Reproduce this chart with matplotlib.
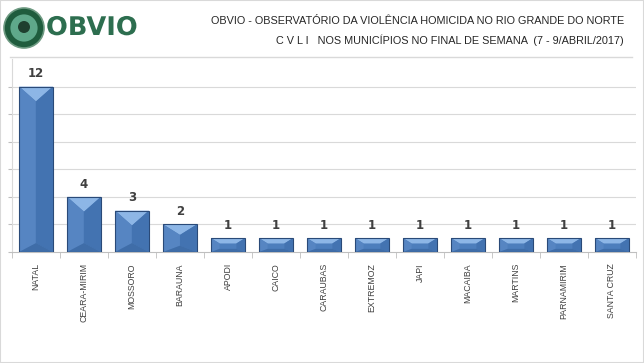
import matplotlib
matplotlib.use("Agg")
import matplotlib.pyplot as plt
import matplotlib.patheffects as pe
from matplotlib.patches import Polygon, Circle, Rectangle
from matplotlib.lines import Line2D

# data
municipios = ['NATAL', 'CEARA-MIRIM', 'MOSSORO', 'BARAUNA', 'APODI', 'CAICO',
              'CARAUBAS', 'EXTREMOZ', 'JAPI', 'MACAIBA', 'MARTINS',
              'PARNAMIRIM', 'SANTA CRUZ']
cvli = [12, 4, 3, 2, 1, 1, 1, 1, 1, 1, 1, 1, 1]

titulo1 = 'OBVIO - OBSERVATÓRIO DA VIOLÊNCIA HOMICIDA NO RIO GRANDE DO NORTE'
titulo2 = 'C V L I   NOS MUNICÍPIOS NO FINAL DE SEMANA  (7 - 9/ABRIL/2017)'

NARROW = ['Liberation Sans', 'DejaVu Sans']

fig = plt.figure(figsize=(6.44, 3.63), dpi=100)
W, H = 644, 363
ax = fig.add_axes([12 / W, 1 - 252 / H, 624 / W, 193 / H])

n = len(cvli)
ax.set_xlim(-0.5, n - 0.5)
ax.set_ylim(0, 14)

# pixel -> data scales
px_x = n / 624.0
px_y = 14 / 193.0

bw = 0.7
for i, v in enumerate(cvli):
    x0, x1 = i - bw / 2, i + bw / 2
    hpx = v / px_y
    dv = min(15, 0.38 * hpx)
    dh = min(17, dv * 1.6)
    dy = dv * px_y
    dx = dh * px_x
    ix0, ix1 = x0 + dx, x1 - dx
    iy1 = v - dy
    iy0 = min(dy * 0.6, iy1)
    ax.add_patch(Rectangle((x0, 0), bw, v, facecolor='#4D7EBC', edgecolor='none', zorder=3))
    # bevel faces
    ax.add_patch(Polygon([(x0, v), (x1, v), (ix1, iy1), (ix0, iy1)],
                         closed=True, facecolor='#8DB6E6', edgecolor='none', zorder=4))
    ax.add_patch(Polygon([(x0, 0), (x0, v), (ix0, iy1), (ix0, iy0)],
                         closed=True, facecolor='#5685C2', edgecolor='none', zorder=4))
    ax.add_patch(Polygon([(x1, 0), (x1, v), (ix1, iy1), (ix1, iy0)],
                         closed=True, facecolor='#4373B1', edgecolor='none', zorder=4))
    ax.add_patch(Polygon([(x0, 0), (x1, 0), (ix1, iy0), (ix0, iy0)],
                         closed=True, facecolor='#3F6DA8', edgecolor='none', zorder=4))
    ax.add_patch(Rectangle((x0, 0), bw, v, facecolor='none', edgecolor='#2A4A78',
                           linewidth=0.8, zorder=5))
    ax.text(i, v + 0.45, str(v), ha='center', va='bottom', fontsize=8.5,
            fontweight='bold', color='#404040', zorder=6)

# grid
for g in range(2, 13, 2):
    ax.axhline(g, color='#D9D9D9', linewidth=0.8, zorder=1)

ax.set_xticks([i + 0.5 for i in range(-1, n)], minor=True)
ax.set_xticks(range(n))
ax.set_xticklabels(municipios, rotation=90, fontsize=6.3, color='#404040',
                   family=NARROW, va='top')
ax.tick_params(axis='x', which='major', length=0, pad=8)
ax.tick_params(axis='x', which='minor', length=4, color='#BFBFBF')
ax.set_yticks(range(0, 13, 2))
ax.set_yticklabels([])
ax.tick_params(axis='y', length=3, color='#BFBFBF')
for s in ['top', 'right']:
    ax.spines[s].set_visible(False)
ax.spines['left'].set_color('#D9D9D9')
ax.spines['bottom'].set_color('#BFBFBF')

# header
fig.text(624 / W, 1 - 21 / H, titulo1, ha='right', va='center', fontsize=7.8,
         color='#262626', family=NARROW)
fig.text(624 / W, 1 - 40 / H, titulo2, ha='right', va='center', fontsize=7.8,
         color='#262626', family=NARROW)
fig.add_artist(Line2D([10 / W, 632 / W], [1 - 57 / H, 1 - 57 / H],
                      color='#D9D9D9', linewidth=1))

# logo
lax = fig.add_axes([2 / W, 1 - 50 / H, 44 / W, 44 / H])
lax.set_xlim(-1.1, 1.1)
lax.set_ylim(-1.1, 1.1)
lax.set_aspect('equal')
lax.axis('off')
lax.add_patch(Circle((0, 0), 1.0, facecolor='#1F5C3D', edgecolor='#6E9A82', linewidth=1.2))
lax.add_patch(Circle((0, 0), 0.68, facecolor='#5FA88A', edgecolor='none'))
lax.add_patch(Circle((0, 0.05), 0.3, facecolor='#1F3F2F', edgecolor='none'))
fig.text(46 / W, 1 - 28 / H, 'OBVIO', ha='left', va='center', fontsize=18.5,
         fontweight='heavy', color='#2D6E4F', family=['DejaVu Sans'],
         path_effects=[pe.withStroke(linewidth=2, foreground='white')])

# border
fig.add_artist(Rectangle((0, 0), 1, 1, transform=fig.transFigure, fill=False,
                         edgecolor='#D9D9D9', linewidth=1.5))

fig.savefig('out.png', dpi=100)
